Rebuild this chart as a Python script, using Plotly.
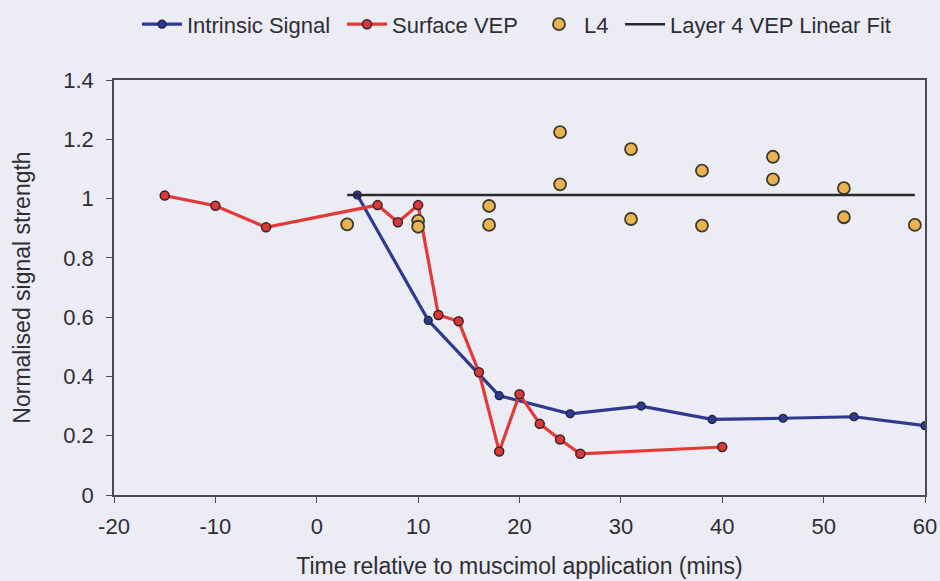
import plotly.graph_objects as go

# Intrinsic signal (optical imaging), normalised
intrinsic_t = [4, 11, 18, 25, 32, 39, 46, 53, 60]
intrinsic_v = [1.012, 0.589, 0.335, 0.274, 0.300, 0.255, 0.259, 0.264, 0.234]

# Surface VEP, normalised
surface_t = [-15, -10, -5, 6, 8, 10, 12, 14, 16, 18, 20, 22, 24, 26, 40]
surface_v = [1.010, 0.976, 0.903, 0.978, 0.920, 0.978, 0.607, 0.586, 0.414,
             0.147, 0.340, 0.240, 0.187, 0.139, 0.162]

# Layer 4 VEP amplitudes
l4_t = [3, 10, 10, 17, 17, 24, 24, 31, 31, 38, 38, 45, 45, 52, 52, 59]
l4_v = [0.913, 0.925, 0.905, 0.975, 0.911, 1.224, 1.048, 1.167, 0.931,
        1.094, 0.909, 1.141, 1.065, 1.035, 0.937, 0.911]

# Layer 4 VEP linear fit
fit_t = [3, 59]
fit_v = [1.012, 1.012]

x_ticks = [-20, -10, 0, 10, 20, 30, 40, 50, 60]
x_tick_text = ["-20", "-10", "0", "10", "20", "30", "40", "50", "60"]
y_ticks = [0, 0.2, 0.4, 0.6, 0.8, 1, 1.2, 1.4]
y_tick_text = ["0", "0.2", "0.4", "0.6", "0.8", "1", "1.2", "1.4"]

FONT = "Liberation Sans, Arial, sans-serif"
AXIS = "#4a4a52"
TEXT = "#2e2e33"

fig = go.Figure()
fig.add_trace(go.Scatter(
    x=intrinsic_t, y=intrinsic_v, name="Intrinsic Signal", mode="lines+markers",
    line=dict(color="#2e3a8f", width=3.2),
    marker=dict(size=8, color="#2e3a8f", line=dict(color="#1e2240", width=1.2)),
    legend="legend",
))
fig.add_trace(go.Scatter(
    x=surface_t, y=surface_v, name="Surface VEP", mode="lines+markers",
    line=dict(color="#e13a37", width=3.2),
    marker=dict(size=9, color="#d83a3a", line=dict(color="#3a2228", width=1.5)),
    legend="legend2",
))
fig.add_trace(go.Scatter(
    x=l4_t, y=l4_v, name="L4", mode="markers",
    marker=dict(size=12, color="#e9b44f", line=dict(color="#3e3a30", width=1.8)),
    legend="legend3",
))
fig.add_trace(go.Scatter(
    x=fit_t, y=fit_v, name="Layer 4 VEP Linear Fit", mode="lines",
    line=dict(color="#2a2a2e", width=2.5),
    legend="legend4",
))

axis_common = dict(
    showline=True, linecolor=AXIS, linewidth=1.6, mirror=True,
    ticks="outside", ticklen=6, tickwidth=1.4, tickcolor=AXIS,
    showgrid=False, zeroline=False,
    tickfont=dict(family=FONT, size=22, color=TEXT),
)

fig.update_xaxes(
    range=[-20, 60], tickvals=x_ticks, ticktext=x_tick_text, ticklabelstandoff=5,
    title=dict(text="Time relative to muscimol application (mins)",
               font=dict(family=FONT, size=23, color=TEXT), standoff=20),
    **axis_common,
)
fig.update_yaxes(
    range=[0, 1.4], tickvals=y_ticks, ticktext=y_tick_text, ticklabelstandoff=8,
    title=dict(text="Normalised signal strength",
               font=dict(family=FONT, size=23, color=TEXT), standoff=26),
    **axis_common,
)

legend_style = dict(
    orientation="h", xref="container", yref="container",
    y=0.958, yanchor="middle", xanchor="left",
    font=dict(family=FONT, size=22, color=TEXT),
    bgcolor="rgba(0,0,0,0)", itemwidth=40,
)

fig.update_layout(
    width=940, height=581,
    margin=dict(l=114, r=15, t=80, b=86, autoexpand=False),
    paper_bgcolor="#ececf5", plot_bgcolor="#ececf5",
    font=dict(family=FONT, color=TEXT),
    legend=dict(x=137 / 940, **legend_style),
    legend2=dict(x=342 / 940, **legend_style),
    legend3=dict(x=534 / 940, **legend_style),
    legend4=dict(x=620 / 940, **legend_style),
    showlegend=True,
)

fig.write_html("out.html")
